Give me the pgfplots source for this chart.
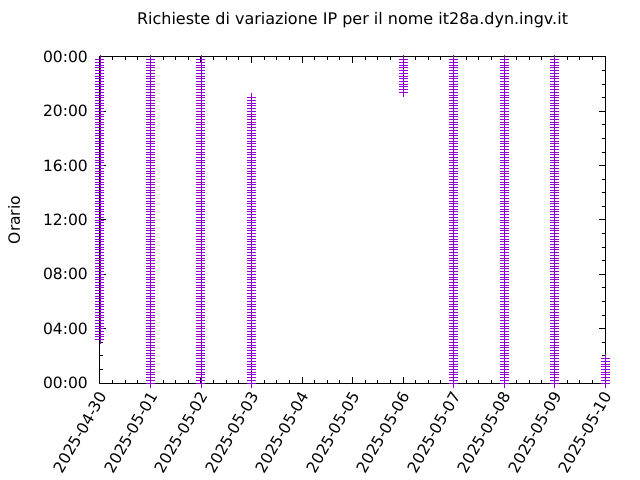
\documentclass[border=0pt]{standalone}
\usepackage{pgfplots}
\pgfplotsset{compat=1.18}
\usepackage{fontspec}
\setmainfont{DejaVu Sans}
\definecolor{gpviolet}{HTML}{9400D3}
\newcommand{\gpfont}{\fontsize{15.5bp}{18bp}\selectfont}
\begin{document}
\begin{tikzpicture}
	\path[use as bounding box] (-100bp,-97bp) rectangle (540bp,383bp);
	\begin{axis}[
		at={(0,0)}, anchor=south west,
		width=505bp, height=326bp, scale only axis,
		xmin=0, xmax=10, ymin=0, ymax=1440,
		xtick={0,1,2,3,4,5,6,7,8,9,10},
		xticklabels={2025-04-30,2025-05-01,2025-05-02,2025-05-03,2025-05-04,2025-05-05,2025-05-06,2025-05-07,2025-05-08,2025-05-09,2025-05-10},
		ytick={0,240,480,720,960,1200,1440},
		yticklabels={00:00,04:00,08:00,12:00,16:00,20:00,00:00},
		minor x tick num=3, minor y tick num=3,
		tick align=inside,
		major tick length=6bp, minor tick length=3bp,
		axis line style={line width=1bp},
		every tick/.style={black, line width=1bp},
		axis on top, clip=false,
		tick label style={font=\gpfont, inner sep=0pt},
		xticklabel style={xshift=3bp, yshift=-10bp, rotate=60, anchor=east},
		yticklabel style={xshift=-12bp, anchor=east},
		title={Richieste di variazione IP per il nome it28a.dyn.ingv.it},
		title style={font=\fontsize{16bp}{19bp}\selectfont, at={(axis description cs:0.5,1.0828)}, anchor=base},
		ylabel={Orario},
		ylabel style={font=\gpfont, at={(axis description cs:-0.1703,0.5)}, anchor=center},
		]
		% orario (minuti dalla mezzanotte) di ogni richiesta, per giorno
		\addplot[only marks, mark=+, mark size=4.5bp, draw=gpviolet, mark options={draw=gpviolet, line width=0.9bp}] coordinates {
			(0,192)(0,204)(0,216)(0,228)(0,240)(0,252)(0,264)(0,276)
			(0,288)(0,300)(0,312)(0,324)(0,336)(0,348)(0,360)(0,372)(0,384)(0,396)(0,408)(0,420)
			(0,432)(0,444)(0,456)(0,468)(0,480)(0,492)(0,504)(0,516)(0,528)(0,540)(0,552)(0,564)
			(0,576)(0,588)(0,600)(0,612)(0,624)(0,636)(0,648)(0,660)(0,672)(0,684)(0,696)(0,708)
			(0,720)(0,732)(0,744)(0,756)(0,768)(0,780)(0,792)(0,804)(0,816)(0,828)(0,840)(0,852)
			(0,864)(0,876)(0,888)(0,900)(0,912)(0,924)(0,936)(0,948)(0,960)(0,972)(0,984)(0,996)
			(0,1008)(0,1020)(0,1032)(0,1044)(0,1056)(0,1068)(0,1080)(0,1092)(0,1104)(0,1116)(0,1128)(0,1140)
			(0,1152)(0,1164)(0,1176)(0,1188)(0,1200)(0,1212)(0,1224)(0,1236)(0,1248)(0,1260)(0,1272)(0,1284)
			(0,1296)(0,1308)(0,1320)(0,1332)(0,1344)(0,1356)(0,1368)(0,1380)(0,1392)(0,1404)(0,1416)(0,1428)
			(1,0)(1,12)(1,24)(1,36)(1,48)(1,60)(1,72)(1,84)(1,96)(1,108)(1,120)(1,132)
			(1,144)(1,156)(1,168)(1,180)(1,192)(1,204)(1,216)(1,228)(1,240)(1,252)(1,264)(1,276)
			(1,288)(1,300)(1,312)(1,324)(1,336)(1,348)(1,360)(1,372)(1,384)(1,396)(1,408)(1,420)
			(1,432)(1,444)(1,456)(1,468)(1,480)(1,492)(1,504)(1,516)(1,528)(1,540)(1,552)(1,564)
			(1,576)(1,588)(1,600)(1,612)(1,624)(1,636)(1,648)(1,660)(1,672)(1,684)(1,696)(1,708)
			(1,720)(1,732)(1,744)(1,756)(1,768)(1,780)(1,792)(1,804)(1,816)(1,828)(1,840)(1,852)
			(1,864)(1,876)(1,888)(1,900)(1,912)(1,924)(1,936)(1,948)(1,960)(1,972)(1,984)(1,996)
			(1,1008)(1,1020)(1,1032)(1,1044)(1,1056)(1,1068)(1,1080)(1,1092)(1,1104)(1,1116)(1,1128)(1,1140)
			(1,1152)(1,1164)(1,1176)(1,1188)(1,1200)(1,1212)(1,1224)(1,1236)(1,1248)(1,1260)(1,1272)(1,1284)
			(1,1296)(1,1308)(1,1320)(1,1332)(1,1344)(1,1356)(1,1368)(1,1380)(1,1392)(1,1404)(1,1416)(1,1428)
			(2,0)(2,12)(2,24)(2,36)(2,48)(2,60)(2,72)(2,84)(2,96)(2,108)(2,120)(2,132)
			(2,144)(2,156)(2,168)(2,180)(2,192)(2,204)(2,216)(2,228)(2,240)(2,252)(2,264)(2,276)
			(2,288)(2,300)(2,312)(2,324)(2,336)(2,348)(2,360)(2,372)(2,384)(2,396)(2,408)(2,420)
			(2,432)(2,444)(2,456)(2,468)(2,480)(2,492)(2,504)(2,516)(2,528)(2,540)(2,552)(2,564)
			(2,576)(2,588)(2,600)(2,612)(2,624)(2,636)(2,648)(2,660)(2,672)(2,684)(2,696)(2,708)
			(2,720)(2,732)(2,744)(2,756)(2,768)(2,780)(2,792)(2,804)(2,816)(2,828)(2,840)(2,852)
			(2,864)(2,876)(2,888)(2,900)(2,912)(2,924)(2,936)(2,948)(2,960)(2,972)(2,984)(2,996)
			(2,1008)(2,1020)(2,1032)(2,1044)(2,1056)(2,1068)(2,1080)(2,1092)(2,1104)(2,1116)(2,1128)(2,1140)
			(2,1152)(2,1164)(2,1176)(2,1188)(2,1200)(2,1212)(2,1224)(2,1236)(2,1248)(2,1260)(2,1272)(2,1284)
			(2,1296)(2,1308)(2,1320)(2,1332)(2,1344)(2,1356)(2,1368)(2,1380)(2,1392)(2,1404)(2,1416)(2,1428)
			(3,0)(3,12)(3,24)(3,36)(3,48)(3,60)(3,72)(3,84)(3,96)(3,108)(3,120)(3,132)
			(3,144)(3,156)(3,168)(3,180)(3,192)(3,204)(3,216)(3,228)(3,240)(3,252)(3,264)(3,276)
			(3,288)(3,300)(3,312)(3,324)(3,336)(3,348)(3,360)(3,372)(3,384)(3,396)(3,408)(3,420)
			(3,432)(3,444)(3,456)(3,468)(3,480)(3,492)(3,504)(3,516)(3,528)(3,540)(3,552)(3,564)
			(3,576)(3,588)(3,600)(3,612)(3,624)(3,636)(3,648)(3,660)(3,672)(3,684)(3,696)(3,708)
			(3,720)(3,732)(3,744)(3,756)(3,768)(3,780)(3,792)(3,804)(3,816)(3,828)(3,840)(3,852)
			(3,864)(3,876)(3,888)(3,900)(3,912)(3,924)(3,936)(3,948)(3,960)(3,972)(3,984)(3,996)
			(3,1008)(3,1020)(3,1032)(3,1044)(3,1056)(3,1068)(3,1080)(3,1092)(3,1104)(3,1116)(3,1128)(3,1140)
			(3,1152)(3,1164)(3,1176)(3,1188)(3,1200)(3,1212)(3,1224)(3,1236)(3,1248)(3,1260)
			(6,1284)(6,1296)(6,1308)(6,1320)(6,1332)(6,1344)(6,1356)(6,1368)(6,1380)(6,1392)(6,1404)(6,1416)(6,1428)
			(7,0)(7,12)(7,24)(7,36)(7,48)(7,60)(7,72)(7,84)(7,96)(7,108)(7,120)(7,132)
			(7,144)(7,156)(7,168)(7,180)(7,192)(7,204)(7,216)(7,228)(7,240)(7,252)(7,264)(7,276)
			(7,288)(7,300)(7,312)(7,324)(7,336)(7,348)(7,360)(7,372)(7,384)(7,396)(7,408)(7,420)
			(7,432)(7,444)(7,456)(7,468)(7,480)(7,492)(7,504)(7,516)(7,528)(7,540)(7,552)(7,564)
			(7,576)(7,588)(7,600)(7,612)(7,624)(7,636)(7,648)(7,660)(7,672)(7,684)(7,696)(7,708)
			(7,720)(7,732)(7,744)(7,756)(7,768)(7,780)(7,792)(7,804)(7,816)(7,828)(7,840)(7,852)
			(7,864)(7,876)(7,888)(7,900)(7,912)(7,924)(7,936)(7,948)(7,960)(7,972)(7,984)(7,996)
			(7,1008)(7,1020)(7,1032)(7,1044)(7,1056)(7,1068)(7,1080)(7,1092)(7,1104)(7,1116)(7,1128)(7,1140)
			(7,1152)(7,1164)(7,1176)(7,1188)(7,1200)(7,1212)(7,1224)(7,1236)(7,1248)(7,1260)(7,1272)(7,1284)
			(7,1296)(7,1308)(7,1320)(7,1332)(7,1344)(7,1356)(7,1368)(7,1380)(7,1392)(7,1404)(7,1416)(7,1428)
			(8,0)(8,12)(8,24)(8,36)(8,48)(8,60)(8,72)(8,84)(8,96)(8,108)(8,120)(8,132)
			(8,144)(8,156)(8,168)(8,180)(8,192)(8,204)(8,216)(8,228)(8,240)(8,252)(8,264)(8,276)
			(8,288)(8,300)(8,312)(8,324)(8,336)(8,348)(8,360)(8,372)(8,384)(8,396)(8,408)(8,420)
			(8,432)(8,444)(8,456)(8,468)(8,480)(8,492)(8,504)(8,516)(8,528)(8,540)(8,552)(8,564)
			(8,576)(8,588)(8,600)(8,612)(8,624)(8,636)(8,648)(8,660)(8,672)(8,684)(8,696)(8,708)
			(8,720)(8,732)(8,744)(8,756)(8,768)(8,780)(8,792)(8,804)(8,816)(8,828)(8,840)(8,852)
			(8,864)(8,876)(8,888)(8,900)(8,912)(8,924)(8,936)(8,948)(8,960)(8,972)(8,984)(8,996)
			(8,1008)(8,1020)(8,1032)(8,1044)(8,1056)(8,1068)(8,1080)(8,1092)(8,1104)(8,1116)(8,1128)(8,1140)
			(8,1152)(8,1164)(8,1176)(8,1188)(8,1200)(8,1212)(8,1224)(8,1236)(8,1248)(8,1260)(8,1272)(8,1284)
			(8,1296)(8,1308)(8,1320)(8,1332)(8,1344)(8,1356)(8,1368)(8,1380)(8,1392)(8,1404)(8,1416)(8,1428)
			(9,0)(9,12)(9,24)(9,36)(9,48)(9,60)(9,72)(9,84)(9,96)(9,108)(9,120)(9,132)
			(9,144)(9,156)(9,168)(9,180)(9,192)(9,204)(9,216)(9,228)(9,240)(9,252)(9,264)(9,276)
			(9,288)(9,300)(9,312)(9,324)(9,336)(9,348)(9,360)(9,372)(9,384)(9,396)(9,408)(9,420)
			(9,432)(9,444)(9,456)(9,468)(9,480)(9,492)(9,504)(9,516)(9,528)(9,540)(9,552)(9,564)
			(9,576)(9,588)(9,600)(9,612)(9,624)(9,636)(9,648)(9,660)(9,672)(9,684)(9,696)(9,708)
			(9,720)(9,732)(9,744)(9,756)(9,768)(9,780)(9,792)(9,804)(9,816)(9,828)(9,840)(9,852)
			(9,864)(9,876)(9,888)(9,900)(9,912)(9,924)(9,936)(9,948)(9,960)(9,972)(9,984)(9,996)
			(9,1008)(9,1020)(9,1032)(9,1044)(9,1056)(9,1068)(9,1080)(9,1092)(9,1104)(9,1116)(9,1128)(9,1140)
			(9,1152)(9,1164)(9,1176)(9,1188)(9,1200)(9,1212)(9,1224)(9,1236)(9,1248)(9,1260)(9,1272)(9,1284)
			(9,1296)(9,1308)(9,1320)(9,1332)(9,1344)(9,1356)(9,1368)(9,1380)(9,1392)(9,1404)(9,1416)(9,1428)
			(10,0)(10,12)(10,24)(10,36)(10,48)(10,60)(10,72)(10,84)(10,96)(10,108)
		};
	\end{axis}
\end{tikzpicture}
\end{document}
